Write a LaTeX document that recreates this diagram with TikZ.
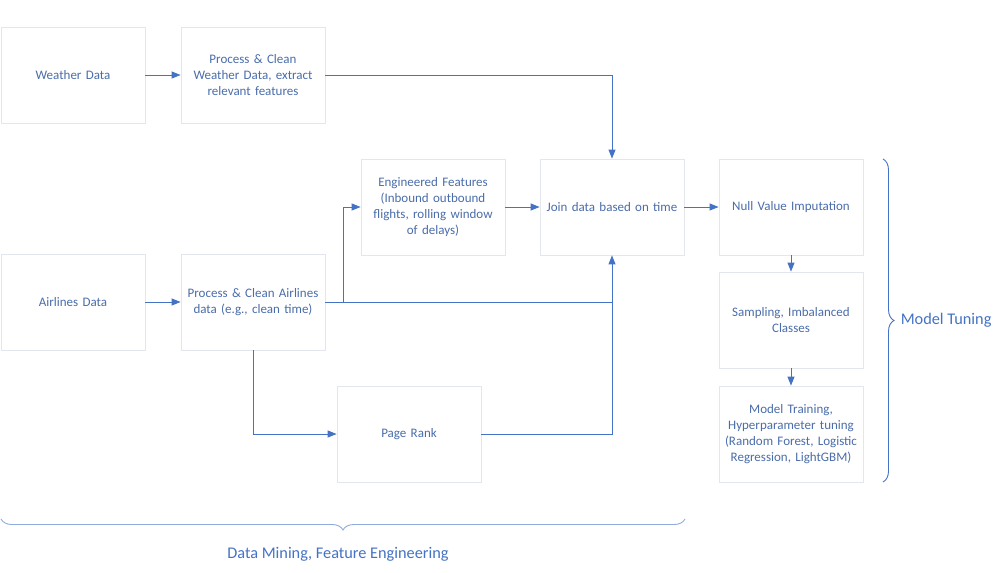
\documentclass[tikz,border=0pt]{standalone}
\usepackage{fontspec}
\setmainfont{Carlito}
\usetikzlibrary{arrows.meta,decorations.pathreplacing}
\definecolor{boxline}{HTML}{E3E6EC}
\definecolor{arrowblue}{HTML}{4472C4}
\definecolor{txtblue}{HTML}{4A6DAA}
\definecolor{bracelight}{HTML}{8FAADC}
\begin{document}
\begin{tikzpicture}[x=1pt,y=-1pt,
  box/.style={draw=boxline,line width=0.8pt,fill=white,minimum width=144pt,minimum height=96pt,
    inner sep=1pt,align=center,text width=142pt,font=\fontsize{13}{16}\selectfont,text=txtblue},
  conn/.style={draw=arrowblue,line width=0.9pt},
  arr/.style={conn,-{Triangle[length=9pt,width=7pt]}},
  bracestyle/.style={decorate,decoration={brace,amplitude=11pt},line width=0.9pt},
  lbl/.style={font=\fontsize{16.3}{18}\selectfont,text=arrowblue}]
\useasboundingbox (0,0) rectangle (1002,573);
\node[box] (weather) at (73,75) {Weather Data};
\node[box] (pweather) at (253,75) {Process \& Clean\\Weather Data, extract\\relevant features};
\node[box] (eng) at (433,207) {Engineered Features\\(Inbound outbound\\flights, rolling window\\of delays)};
\node[box] (join) at (612,207) {Join data based on time};
\node[box] (null) at (791,207) {Null Value Imputation};
\node[box] (samp) at (791,320) {Sampling, Imbalanced\\Classes};
\node[box] (train) at (791,434) {Model Training,\\Hyperparameter tuning\\(Random Forest, Logistic\\Regression, LightGBM)};
\node[box] (air) at (73,302) {Airlines Data};
\node[box] (pair) at (253,302) {Process \& Clean Airlines\\data (e.g., clean time)};
\node[box] (pr) at (409,434) {Page Rank};
\coordinate (c1) at (612,75);
\coordinate (c2) at (612,302);
\coordinate (c3) at (343,302);
\coordinate (c4) at (343,207);
\coordinate (c5) at (253,434);
\coordinate (c6) at (612,434);
\draw[arr] (weather) -- (pweather);
\draw[arr] (pweather.east) -- (c1) -- (join.north);
\draw[arr] (air) -- (pair);
\draw[arr] (pair.east) -- (c2) -- (join.south);
\draw[arr] (c3) -- (c4) -- (eng.west);
\draw[arr] (eng) -- (join);
\draw[arr] (join) -- (null);
\draw[arr] (null) -- (samp);
\draw[arr] (samp) -- (train);
\draw[arr] (pair.south) -- (c5) -- (pr.west);
\draw[conn] (pr.east) -- (c6) -- (c2);
\coordinate (rb1) at (883,159);
\coordinate (rb2) at (883,482);
\draw[bracestyle,draw=arrowblue] (rb1) -- (rb2) node[midway,right=14pt,lbl] (mt) {Model Tuning};
\coordinate (bb1) at (685,519);
\coordinate (bb2) at (1,519);
\draw[bracestyle,draw=bracelight] (bb1) -- (bb2);
\node[lbl] (dm) at (338,554) {Data Mining, Feature Engineering};
\end{tikzpicture}
\end{document}
